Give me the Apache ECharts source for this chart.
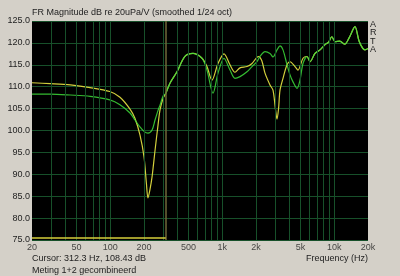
<!DOCTYPE html>
<html><head><meta charset="utf-8">
<script src="https://cdn.jsdelivr.net/npm/echarts@6/dist/echarts.min.js"></script>
<style>html,body{margin:0;padding:0;background:#d4d0c8}#c{width:400px;height:276px}</style>
</head><body><div id="c"></div>
<script>
const title = 'FR Magnitude dB re 20uPa/V (smoothed 1/24 oct)';
const cursorText = 'Cursor: 312.3 Hz, 108.43 dB';
const noteText = 'Meting 1+2 gecombineerd';
const xName = 'Frequency (Hz)';
const cursorFreq = 312.3;
const cursorLevel = 75.4;
const xTickValues = [20, 50, 100, 200, 500, 1000, 2000, 5000, 10000, 20000];
const xTickLabels = ['20', '50', '100', '200', '500', '1k', '2k', '5k', '10k', '20k'];
const xGridValues = [30,40,50,60,70,80,90,100,200,300,400,500,600,700,800,900,1000,2000,3000,4000,5000,6000,7000,8000,9000,10000];
const yellowSeries = [[20,110.9],[29,110.7],[44,110.4],[66,109.8],[99,108.9],[122,107.6],[150,104.9],[166,102.8],[184,99.0],[200,94.0],[210,88.0],[217,84.6],[226,86.5],[236,89.4],[251,95.5],[267,101.3],[278,104.7],[296,107.3],[312,108.4],[341,110.8],[394,113.4],[464,116.9],[548,117.6],[659,116.5],[730,114.6],[809,111.5],[916,115.3],[1036,117.5],[1172,115.0],[1298,113.3],[1439,114.3],[1662,114.6],[1842,115.3],[2100,116.9],[2250,116.0],[2407,113.1],[2667,110.4],[2836,109.2],[2980,105.0],[3081,102.6],[3180,105.0],[3276,109.2],[3484,111.9],[3784,115.0],[4024,115.7],[4458,114.6],[4742,113.8],[5256,116.5],[5708,116.9],[6072,115.7],[6730,117.6],[7456,118.4],[8264,119.6],[8900,120.2],[9500,121.4],[10200,120.3],[11200,120.4],[12400,119.7],[13600,121.2],[15300,123.7],[16600,120.5],[17900,118.8],[18800,118.4],[20000,118.7]];
const greenSeries = [[20,108.3],[29,108.3],[44,108.1],[66,107.8],[99,107.0],[122,105.9],[150,104.0],[166,102.4],[184,100.8],[200,99.8],[217,99.4],[236,100.1],[251,102.4],[267,104.6],[278,105.8],[296,107.9],[312,108.4],[341,110.8],[394,113.4],[464,116.9],[548,117.6],[659,116.5],[730,113.8],[826,108.5],[916,113.1],[1036,116.5],[1172,113.8],[1298,111.9],[1439,112.3],[1662,113.4],[1842,114.6],[2041,115.7],[2172,116.9],[2407,118.0],[2667,117.6],[2836,116.8],[3081,118.4],[3276,119.3],[3484,118.4],[3784,115.0],[4024,112.7],[4280,111.1],[4645,109.6],[4942,111.5],[5256,115.3],[5708,116.9],[6072,115.7],[6730,117.6],[7456,118.4],[8264,119.6],[8900,120.2],[9500,121.4],[10200,120.3],[11200,120.4],[12400,119.7],[13600,121.2],[15300,123.7],[16600,120.5],[17900,118.8],[18800,118.4],[20000,118.7]];

const FONT = 'Liberation Sans';
const gridColor = '#17502a';
const chart = echarts.init(document.getElementById('c'), null, {renderer: 'canvas'});
chart.setOption({
  backgroundColor: '#d4d0c8',
  animation: false,
  grid: {left: 32, top: 21, right: 32, bottom: 36, show: true, backgroundColor: '#000', borderWidth: 0},
  xAxis: {type: 'log', logBase: 10, min: 20, max: 20000,
    axisLine: {show: false}, axisTick: {show: false}, axisLabel: {show: false},
    splitLine: {show: false}},
  yAxis: {type: 'value', min: 75, max: 125, interval: 5,
    axisLine: {show: false}, axisTick: {show: false},
    axisLabel: {color: '#222', fontFamily: FONT, fontSize: 9, margin: 2, formatter: v => v.toFixed(1)},
    splitLine: {lineStyle: {color: gridColor, width: 1}}},
  graphic: [
    {type: 'text', left: 32, top: 8, style: {text: title, fill: '#222', font: '9px ' + FONT}},
    {type: 'text', left: 32, top: 254, style: {text: cursorText, fill: '#222', font: '9px ' + FONT}},
    {type: 'text', left: 32, top: 266, style: {text: noteText, fill: '#222', font: '9px ' + FONT}},
    {type: 'text', right: 32, top: 254, style: {text: xName, fill: '#222', font: '9px ' + FONT}},
    {type: 'text', left: 370, top: 20, style: {text: 'A\nR\nT\nA', fill: '#222', font: '9px ' + FONT, lineHeight: 8.5}}
  ],
  series: [
    {type: 'line', data: [], silent: true,
      markLine: {silent: true, symbol: 'none', label: {show: false},
        lineStyle: {color: gridColor, width: 1, type: 'solid'},
        data: xGridValues.map(v => ({xAxis: v}))}},
    {type: 'scatter', silent: true, symbolSize: 0,
      data: xTickValues.map((v, i) => ({value: [v, 75], name: xTickLabels[i]})),
      label: {show: true, position: 'bottom', distance: 3, color: '#222', fontFamily: FONT, fontSize: 9,
        formatter: p => p.name}},
    {type: 'line', data: [], silent: true,
      markLine: {silent: true, symbol: 'none', label: {show: false},
        emphasis: {disabled: true},
        lineStyle: {color: '#6f6838', width: 1.5, type: 'solid', opacity: 1},
        data: [{xAxis: cursorFreq}]}},
    {type: 'line', data: [], silent: true,
      markLine: {silent: true, symbol: 'none', label: {show: false},
        emphasis: {disabled: true},
        lineStyle: {color: '#d6cf3a', width: 1.5, type: 'solid', opacity: 1},
        data: [[{coord: [20, cursorLevel]}, {coord: [cursorFreq, cursorLevel]}]]}},
    {type: 'line', name: 'Yellow', data: yellowSeries, symbol: 'none', smooth: 0.3,
      lineStyle: {color: '#d2cf3c', width: 1.2}},
    {type: 'line', name: 'Green', data: greenSeries, symbol: 'none', smooth: 0.3,
      lineStyle: {color: '#3ddc3a', width: 1.2, opacity: 0.85}}
  ]
});
</script></body></html>
